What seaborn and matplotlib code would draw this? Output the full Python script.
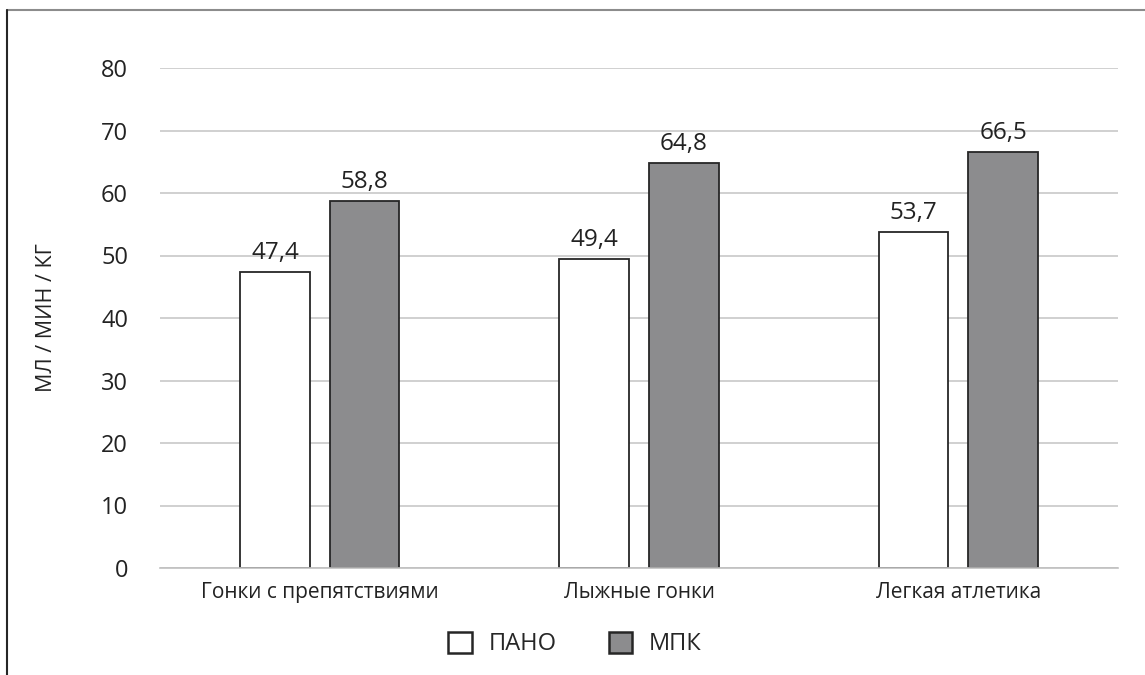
import matplotlib
matplotlib.use("Agg")
import matplotlib.pyplot as plt
import seaborn as sns
import pandas as pd
from matplotlib.lines import Line2D
from matplotlib.patches import Patch

categories = ["Гонки с препятствиями", "Лыжные гонки", "Легкая атлетика"]
series = ["ПАНО", "МПК"]
pano = [47.4, 49.4, 53.7]
mpk = [58.8, 64.8, 66.5]
colors = {"ПАНО": "#ffffff", "МПК": "#8c8c8e"}

df = pd.DataFrame({
    "category": categories * 2,
    "series": ["ПАНО"] * 3 + ["МПК"] * 3,
    "value": pano + mpk,
})

sns.set_style("white")
plt.rcParams["font.family"] = ["Open Sans", "DejaVu Sans"]

fig = plt.figure(figsize=(11.45, 6.75), dpi=100)
ax = fig.add_axes([160 / 1145, 1 - 568 / 675, 958 / 1145, 500 / 675])

sns.barplot(data=df, x="category", y="value", hue="series", hue_order=series,
            palette=colors, width=0.56, gap=0.22, edgecolor="#262626",
            linewidth=1.3, ax=ax, legend=False)

ax.set_ylim(0, 80)
ax.set_xlim(-0.5, 2.5)
ax.set_yticks(range(0, 81, 10))
ax.yaxis.grid(True, color="#c8c8c8", linewidth=1.2)
ax.set_axisbelow(True)
for s in ["top", "right", "left"]:
    ax.spines[s].set_visible(False)
ax.spines["bottom"].set_color("#c0c0c0")
ax.spines["bottom"].set_linewidth(1.2)
ax.tick_params(axis="both", length=0, colors="#222222")
ax.tick_params(axis="y", labelsize=17, pad=23)
ax.tick_params(axis="x", labelsize=15, pad=10)
ax.set_xlabel("")
ax.set_ylabel("МЛ / МИН / КГ", fontsize=15.5, color="#222222")
ax.yaxis.set_label_coords(-0.107, 0.5)

for cont in ax.containers:
    ax.bar_label(cont, labels=[f"{v:.1f}".replace(".", ",") for v in cont.datavalues],
                 fontsize=17.5, color="#222222", padding=5)

handles = [Patch(facecolor=colors[s], edgecolor="#262626", linewidth=1.8) for s in series]
fig.legend(handles, series, loc="center", bbox_to_anchor=(575 / 1145, 1 - 644 / 675),
           ncol=2, frameon=False, fontsize=17, handlelength=1.0, handleheight=1.0,
           columnspacing=2.2, handletextpad=0.7)

# frame pieces around the figure
fig.add_artist(Line2D([7 / 1145, 1], [1 - 10 / 675] * 2, color="#8c8c8c", linewidth=1.5))
fig.add_artist(Line2D([7 / 1145] * 2, [0, 1 - 10 / 675], color="#262626", linewidth=1.5))

fig.savefig("out.png", dpi=100)
